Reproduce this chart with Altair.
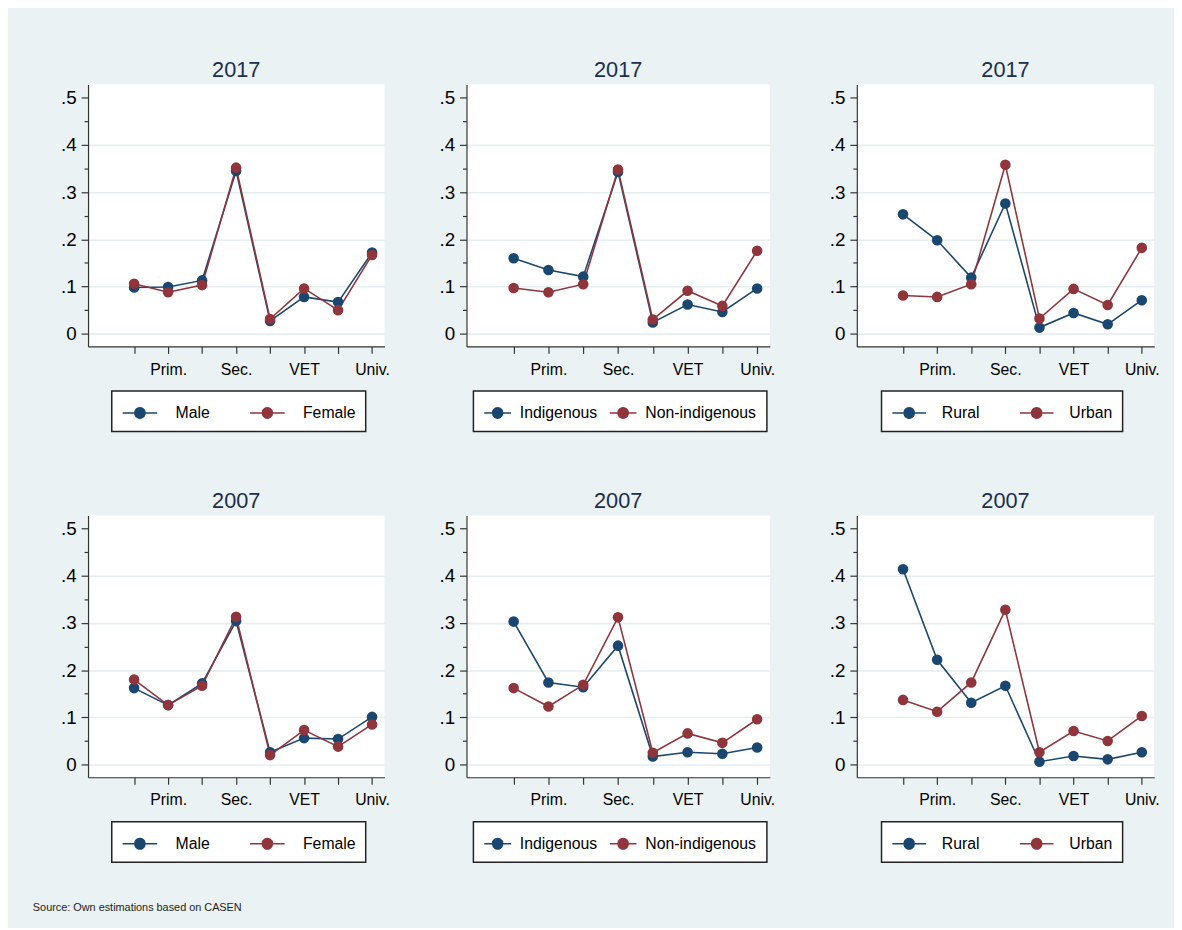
import json
import altair as alt
import pandas as pd

FONT = "Liberation Sans"
NAVY = "#1a476f"
MAROON = "#90353b"
BG = "#eaf2f3"

# ---------------- data ----------------
X = [1, 2, 3, 4, 5, 6, 7, 8]
TICK_LABELS = ["", "Prim.", "", "Sec.", "", "VET", "", "Univ."]
Y_MAJOR = [0, 0.1, 0.2, 0.3, 0.4, 0.5]
Y_MINOR = [0.05, 0.15, 0.25, 0.35, 0.45]

MALE_2017 = [0.098, 0.099, 0.113, 0.345, 0.027, 0.078, 0.067, 0.172]
FEMALE_2017 = [0.106, 0.088, 0.103, 0.352, 0.031, 0.096, 0.050, 0.167]
INDIG_2017 = [0.160, 0.135, 0.121, 0.343, 0.024, 0.062, 0.046, 0.096]
NONINDIG_2017 = [0.097, 0.088, 0.105, 0.348, 0.030, 0.091, 0.059, 0.176]
RURAL_2017 = [0.253, 0.198, 0.119, 0.276, 0.013, 0.044, 0.020, 0.071]
URBAN_2017 = [0.081, 0.078, 0.105, 0.358, 0.032, 0.095, 0.061, 0.182]

MALE_2007 = [0.162, 0.126, 0.172, 0.304, 0.026, 0.056, 0.054, 0.101]
FEMALE_2007 = [0.180, 0.126, 0.167, 0.313, 0.020, 0.073, 0.038, 0.085]
INDIG_2007 = [0.303, 0.174, 0.164, 0.252, 0.017, 0.026, 0.023, 0.036]
NONINDIG_2007 = [0.162, 0.123, 0.169, 0.312, 0.025, 0.066, 0.046, 0.096]
RURAL_2007 = [0.414, 0.222, 0.131, 0.167, 0.006, 0.018, 0.011, 0.026]
URBAN_2007 = [0.137, 0.112, 0.174, 0.328, 0.026, 0.071, 0.050, 0.103]

SEX = ["Male", "Female"]
ETH = ["Indigenous", "Non-indigenous"]
AREA = ["Rural", "Urban"]
SOURCE = "Source: Own estimations based on CASEN"

# ---------------- helpers ----------------
LABEL_EXPR_X = json.dumps(TICK_LABELS) + "[datum.value - 1]"
LABEL_EXPR_Y = "datum.value == 0 ? '0' : replace(format(datum.value, '.1f'), '0.', '.')"


def sym_path(w):
    # legend glyph: horizontal line with a dot in its middle (units of 11px)
    x0, x1 = -1.0, w / 11.0 - 1.0
    cx = w / 22.0 - 1.0
    r = 5.0 / 11.0
    return (f"M{x0:.3f},0L{x1:.3f},0"
            f"M{cx - r:.3f},0A{r:.3f},{r:.3f} 0 1,1 {cx + r:.3f},0"
            f"A{r:.3f},{r:.3f} 0 1,1 {cx - r:.3f},0Z")


def panel(title, names, a, b, width, lx, sym_w, lo, colpad):
    df = pd.DataFrame({
        "x": X + X,
        "y": a + b,
        "g": [names[0]] * len(X) + [names[1]] * len(X),
    })
    cscale = alt.Scale(domain=names, range=[NAVY, MAROON])
    legend = alt.Legend(
        title=None, orient="none", legendX=lx, legendY=310,
        direction="horizontal", columns=2,
        symbolType=sym_path(sym_w), symbolSize=484, symbolStrokeWidth=1.6,
        symbolOpacity=1,
        labelFontSize=16, labelColor="#000", labelFont=FONT,
        labelOffset=lo, columnPadding=colpad, padding=10,
        strokeColor="#222", fillColor="#ffffff",
    )
    xenc = alt.X(
        "x:Q",
        scale=alt.Scale(domain=[-0.355, 8.365], nice=False, zero=False),
        axis=alt.Axis(values=X, labelExpr=LABEL_EXPR_X, title=None, grid=False,
                      tickSize=7, labelPadding=8, labelFontSize=16, labelColor="#000",
                      labelFont=FONT, labelAngle=0, labelFlush=False, labelOverlap=False,
                      domainColor="#333", tickColor="#333", domainWidth=1.2, tickWidth=1.2),
    )
    yscale = alt.Scale(domain=[-0.027, 0.528], nice=False, zero=False)
    major_axis = alt.Axis(
        orient="left", values=Y_MAJOR, labelExpr=LABEL_EXPR_Y, title=None,
        tickSize=7, labelPadding=5, labelFontSize=19, labelColor="#000", labelFont=FONT,
        labelFlush=False, labelOverlap=False,
        domainColor="#333", tickColor="#333", domainWidth=1.2, tickWidth=1.2,
        grid=True, gridColor="#e6eef0", gridWidth=1.6,
        gridOpacity={"condition": {"test": "datum.value > 0.45", "value": 0}, "value": 1},
    )
    minor_axis = alt.Axis(
        orient="left", values=Y_MINOR, labels=False, title=None, domain=False,
        grid=False, tickSize=4, tickColor="#333", tickWidth=1.2,
    )
    base = alt.Chart(df)
    line = base.mark_line(strokeWidth=1.6).encode(
        x=xenc,
        y=alt.Y("y:Q", scale=yscale, axis=minor_axis),
        color=alt.Color("g:N", scale=cscale, legend=legend),
    )
    pts = base.mark_point(filled=True, size=115, opacity=1).encode(
        x=xenc,
        y=alt.Y("y:Q", scale=yscale, axis=major_axis),
        color=alt.Color("g:N", scale=cscale, legend=legend),
    )
    return (
        alt.layer(line, pts)
        .resolve_axis(y="independent")
        .properties(
            width=width, height=265,
            title=alt.TitleParams(title, fontSize=22, color="#1c2e4f", font=FONT,
                                  fontWeight="normal", offset=3, anchor="middle"),
        )
    )


def row(year, sets):
    (s1, a1, b1), (s2, a2, b2), (s3, a3, b3) = sets
    p1 = panel(year, s1, a1, b1, 300, 24, 35, 30.5, 36)
    p2 = panel(year, s2, a2, b2, 307, 7, 27, 13, 8)
    p3 = panel(year, s3, a3, b3, 301, 25, 34, 27, 36)
    inner = alt.hconcat(p2, p3, spacing=55).resolve_scale(color="independent")
    return alt.hconcat(p1, inner, spacing=49).resolve_scale(color="independent")


row1 = row("2017", [(SEX, MALE_2017, FEMALE_2017),
                    (ETH, INDIG_2017, NONINDIG_2017),
                    (AREA, RURAL_2017, URBAN_2017)])
row2 = row("2007", [(SEX, MALE_2007, FEMALE_2007),
                    (ETH, INDIG_2007, NONINDIG_2007),
                    (AREA, RURAL_2007, URBAN_2007)])

chart = (
    alt.vconcat(row1, row2, spacing=58)
    .resolve_scale(color="independent")
    .properties(
        background=BG,
        padding={"left": 25, "top": 46, "right": 14, "bottom": 9},
        title=alt.TitleParams(SOURCE, orient="bottom", anchor="start", fontSize=11,
                              fontWeight="normal", color="#222", font=FONT,
                              offset=40, dx=-28),
    )
    .configure(font=FONT)
    .configure_view(fill="white", stroke=None)
    .configure_legend(strokeWidth=1.5)
)

chart.save("out.html", embed_options={"renderer": "svg", "actions": False})
